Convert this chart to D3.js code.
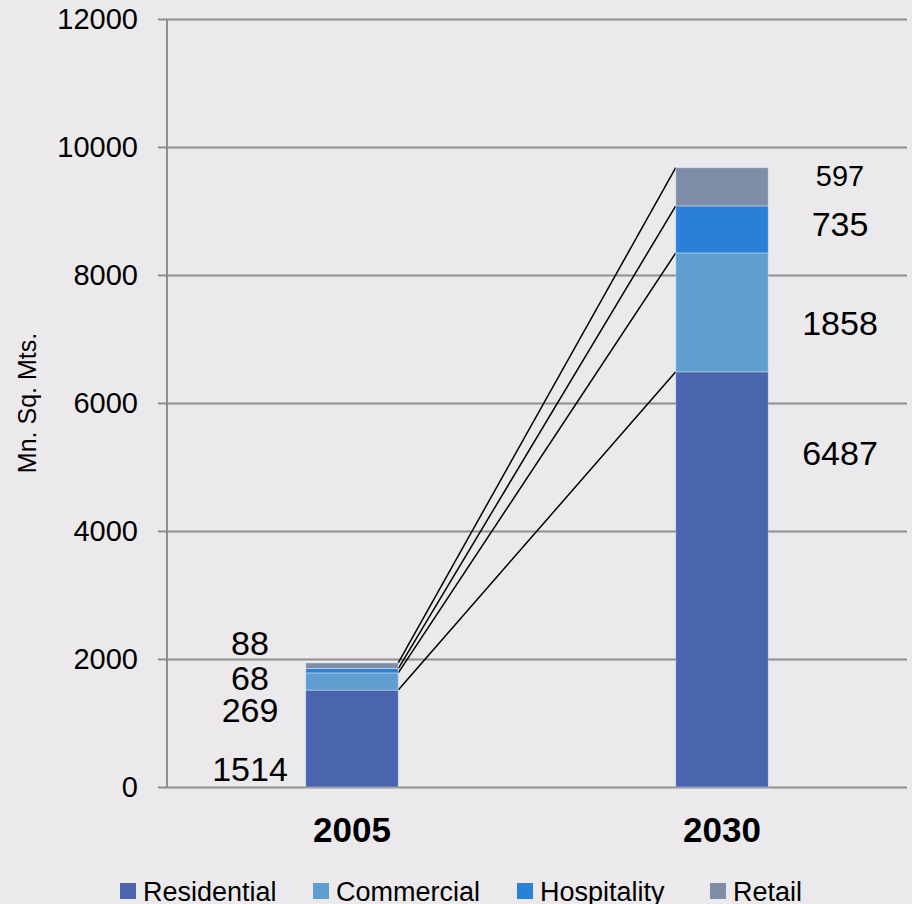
<!DOCTYPE html>
<html lang="en">
<head>
<meta charset="UTF-8">
<title>Built-up area 2005 vs 2030</title>
<script src="https://d3js.org/d3.v7.min.js"></script>
<style>
  html, body { margin: 0; padding: 0; background: #ebe9ec; }
  svg { display: block; font-family: "Liberation Sans", Arial, sans-serif; }
</style>
</head>
<body>
<div id="chart"></div>
<script>
// Data
var years = ["2005", "2030"];
var segments = ["Residential", "Commercial", "Hospitality", "Retail"];
var residential = [1514, 6487];
var commercial = [269, 1858];
var hospitality = [68, 735];
var retail = [88, 597];
var yTicks = [0, 2000, 4000, 6000, 8000, 10000, 12000];

var colors = ["#4a65ad", "#609dd0", "#2a7fd6", "#7f8ea8"];

// label baselines (layout only), per year, per segment
var labelBaseline = [[781, 722, 690, 655], [465, 335, 236, 186]];
var labelSize = [[34, 34, 34, 34], [34, 34, 34, 29]];

var width = 912, height = 904;
var margin = { top: 19, right: 5, bottom: 117, left: 167 };

var svg = d3.select("#chart").append("svg")
    .attr("width", width)
    .attr("height", height);

svg.append("rect").attr("width", width).attr("height", height).attr("fill", "#ebe9ec");

var x = d3.scaleBand()
    .domain(years)
    .range([margin.left, width - margin.right]);

var y = d3.scaleLinear()
    .domain([0, 12000])
    .range([height - margin.bottom, margin.top]);

// gridlines + ticks
var yAxis = svg.append("g")
    .attr("transform", "translate(" + margin.left + ",0)")
    .call(d3.axisLeft(y).tickValues(yTicks).tickSize(9).tickPadding(20).tickFormat(d3.format("d")));
yAxis.select(".domain").remove();
yAxis.selectAll(".tick line")
    .attr("x1", -9)
    .attr("x2", width - 5 - margin.left)
    .attr("stroke", "#8e8e8e")
    .attr("stroke-width", 2);
yAxis.selectAll(".tick text")
    .attr("fill", "#000")
    .style("font-size", "29px");

svg.append("line")
    .attr("x1", margin.left).attr("x2", margin.left)
    .attr("y1", y(12000)).attr("y2", y(0))
    .attr("stroke", "#8e8e8e").attr("stroke-width", 2);

// Stack
var table = years.map(function (yr, i) {
    return { year: yr, Residential: residential[i], Commercial: commercial[i], Hospitality: hospitality[i], Retail: retail[i] };
});
var stacked = d3.stack().keys(segments)(table);

var barW = x.bandwidth() * 0.25;
function barLeft(yr) { return x(yr) + x.bandwidth() / 2 - barW / 2; }

// connector lines
stacked.forEach(function (layer) {
    svg.append("line")
        .attr("x1", barLeft(years[0]) + barW)
        .attr("y1", y(layer[0][1]))
        .attr("x2", barLeft(years[1]))
        .attr("y2", y(layer[1][1]))
        .attr("stroke", "#000")
        .attr("stroke-width", 1.5);
});

svg.append("g").selectAll("g")
    .data(stacked)
    .join("g")
    .attr("fill", function (d, i) { return colors[i]; })
    .selectAll("rect")
    .data(function (d) { return d; })
    .join("rect")
    .attr("x", function (d) { return barLeft(d.data.year); })
    .attr("y", function (d) { return y(d[1]); })
    .attr("width", barW)
    .attr("height", function (d) { return y(d[0]) - y(d[1]); })
    .attr("stroke", "rgba(255,255,255,0.35)")
    .attr("stroke-width", 1);

// value labels
stacked.forEach(function (layer, s) {
    layer.forEach(function (d, i) {
        var cx = x(years[i]) + x.bandwidth() / 2 + (i === 0 ? -102 : 118);
        svg.append("text")
            .attr("x", cx)
            .attr("y", labelBaseline[i][s])
            .attr("text-anchor", "middle")
            .style("font-size", labelSize[i][s] + "px")
            .text(d[1] - d[0]);
    });
});

// category labels
svg.selectAll(".cat")
    .data(years)
    .join("text")
    .attr("class", "cat")
    .attr("x", function (d) { return x(d) + x.bandwidth() / 2; })
    .attr("y", 842)
    .attr("text-anchor", "middle")
    .style("font-size", "35px")
    .style("font-weight", "bold")
    .text(function (d) { return d; });

// y title
svg.append("text")
    .attr("transform", "translate(36,403) rotate(-90)")
    .attr("text-anchor", "middle")
    .style("font-size", "25px")
    .text("Mn. Sq. Mts.");

// legend
var legendX = [120, 313, 517, 710];
var legend = svg.append("g").selectAll("g")
    .data(segments)
    .join("g")
    .attr("transform", function (d, i) { return "translate(" + legendX[i] + ",883)"; });
legend.append("rect")
    .attr("width", 16).attr("height", 16)
    .attr("fill", function (d, i) { return colors[i]; });
legend.append("text")
    .attr("x", 23)
    .attr("y", 18)
    .style("font-size", "27px")
    .text(function (d) { return d; });
</script>
</body>
</html>
